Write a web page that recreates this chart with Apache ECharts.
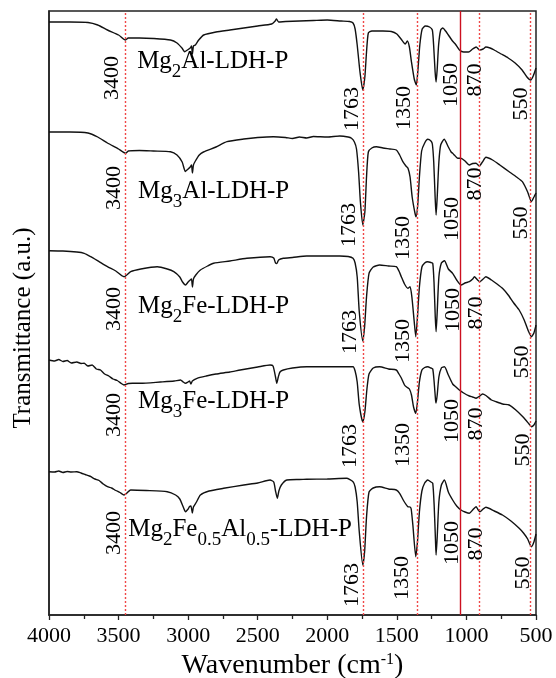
<!DOCTYPE html>
<html>
<head>
<meta charset="utf-8">
<script src="https://cdn.jsdelivr.net/npm/echarts@6/dist/echarts.min.js"></script>
<style>html,body{margin:0;padding:0;background:#fff}#c{width:556px;height:678px}</style>
</head>
<body>
<div id="c"></div>
<script>
// ---- data (wavenumber cm-1, transmittance a.u. with vertical offsets) ----
const xTicks = [4000, 3500, 3000, 2500, 2000, 1500, 1000, 500];
const refLines = [3450, 1742, 1355, 1046, 906, 538];
const peakLabels = ['3400', '1763', '1350', '1050', '870', '550'];
const sampleNames = [
  '{m|Mg}{s|2}{m|Al-LDH-P}',
  '{m|Mg}{s|3}{m|Al-LDH-P}',
  '{m|Mg}{s|2}{m|Fe-LDH-P}',
  '{m|Mg}{s|3}{m|Fe-LDH-P}',
  '{m|Mg}{s|2}{m|Fe}{s|0.5}{m|Al}{s|0.5}{m|-LDH-P}'
];

const mg2al = [[4000,595],[3850,595],[3720,594.5],[3650,592],[3580,587],[3500,582],[3450,577],[3430,579],[3350,579],[3250,578.5],[3127,577],[3080,574],[3043,568.7],[3026,565.3],[3005,567],[2985,569],[2976,571],[2969,563],[2962,571],[2948,572],[2924,577],[2888,582],[2800,585],[2700,587],[2600,589],[2500,591],[2400,593],[2375,596],[2365,598],[2350,595],[2300,595.5],[2200,596],[2100,596.5],[2000,597],[1900,596],[1840,595.5],[1815,594],[1800,588],[1785,572],[1765,545],[1745,527],[1730,540],[1718,565],[1705,584],[1680,586],[1600,586],[1540,585.5],[1500,583],[1470,578],[1440,573],[1425,576],[1410,570],[1395,555],[1375,538],[1360,532],[1348,548],[1335,572],[1318,588],[1295,591],[1265,590],[1245,587],[1235,570],[1225,545],[1218,535],[1210,548],[1200,572],[1185,587],[1170,589],[1150,586],[1120,580],[1100,576],[1080,573],[1050,567],[1020,565],[985,565],[955,568],[930,570],[905,567],[880,568],[860,570],[830,569],[800,567],[750,563],[700,559],[650,554],[600,547],[565,540],[538,537],[520,541],[500,549]];

const mg3al = [[4000,485],[3850,485],[3720,484],[3650,480],[3580,474],[3500,468],[3450,463.7],[3430,466],[3350,466.5],[3250,466],[3127,465.3],[3080,462],[3043,455],[3020,445.5],[3000,448],[2985,450],[2976,452],[2969,444],[2962,452],[2948,456],[2920,462],[2890,465],[2800,470],[2721,475.3],[2600,478],[2500,479.5],[2387,480.3],[2300,479.5],[2250,478.5],[2200,480],[2148,479],[2100,480.5],[2000,480],[1910,481],[1850,480],[1826,478.7],[1805,475],[1790,468],[1775,445],[1762,415],[1745,392],[1730,405],[1718,440],[1705,465],[1680,469],[1647,470.3],[1600,469],[1550,468],[1504,467],[1480,462],[1457,455.3],[1435,451],[1420,448.7],[1405,440],[1390,420],[1370,404],[1362,400.3],[1350,412],[1338,440],[1322,466],[1300,474],[1278,477.7],[1255,476],[1245,473],[1235,455],[1225,420],[1218,402],[1210,420],[1198,455],[1185,472],[1160,477.7],[1130,470],[1110,465],[1099,463.7],[1087,462],[1063,458.7],[1040,458.7],[1010,456],[979,452],[955,453.5],[931,453.7],[908,451],[885,455],[860,459.7],[812,457],[760,452],[693,445.3],[640,440],[598,435.3],[560,425],[533,415.3],[515,420],[500,424]];

const mg2fe = [[4000,366.3],[3900,366],[3800,365],[3747,363.7],[3700,360.3],[3640,355.3],[3580,350.3],[3520,346],[3461,340.3],[3413,345.3],[3340,348],[3222,350.3],[3150,348],[3103,345.3],[3060,340],[3040,335],[3019,332],[3000,335],[2985,337],[2976,338],[2969,330],[2962,338],[2945,342],[2912,347],[2860,351],[2817,353.7],[2700,356],[2578,358.7],[2411,360.3],[2385,359],[2372,354],[2362,353.5],[2350,357],[2316,358.7],[2250,359.5],[2148,361],[2000,361],[1910,361],[1850,360.5],[1815,358.7],[1800,354],[1785,340],[1770,305],[1745,276],[1732,290],[1718,320],[1700,343.7],[1670,350],[1624,352],[1560,351],[1504,350.3],[1485,346],[1468,340.3],[1445,333],[1421,328.7],[1405,330.3],[1392,320],[1375,295],[1364,280.3],[1352,300],[1338,330],[1320,350],[1300,354],[1278,355.3],[1255,354.5],[1242,353.7],[1233,335],[1224,300],[1218,285.3],[1210,305],[1198,340],[1180,354],[1158,356.3],[1130,348],[1099,343.7],[1070,337],[1039,332],[1010,334],[979,335.3],[955,338],[943,340.3],[920,337],[903,335.3],[880,338],[860,340.3],[820,337],[780,333],[741,328.7],[700,322],[660,314],[621,307],[585,297],[555,286],[533,280.3],[515,284],[500,292]];

const mg3fe = [[4000,257],[3960,256],[3930,257.5],[3900,255.5],[3870,256.5],[3840,254],[3800,255],[3770,253.5],[3747,253.7],[3720,251],[3690,252],[3660,248],[3630,247],[3600,243],[3570,241],[3540,238],[3510,236.5],[3480,233.5],[3461,232],[3430,233.5],[3400,233.7],[3341,233.7],[3200,235],[3100,236],[3055,237],[3035,235],[3019,233.7],[3000,235],[2990,236],[2980,233],[2970,236],[2936,238.7],[2870,241],[2800,243],[2700,245],[2626,247],[2500,250],[2411,252],[2390,251],[2372,240],[2363,233.7],[2352,240],[2340,245],[2316,247],[2250,249],[2148,250.3],[2000,250.3],[1900,250.3],[1815,250.3],[1800,246],[1785,235],[1770,212],[1745,195],[1730,205],[1715,228],[1700,243],[1670,249],[1624,250.3],[1560,248],[1504,247],[1485,243],[1468,239],[1445,232],[1430,230],[1410,228],[1395,222],[1380,210],[1364,203.7],[1352,215],[1338,235],[1320,247],[1300,249.5],[1278,250.3],[1255,249],[1242,248],[1232,235],[1222,217],[1218,214],[1210,222],[1198,240],[1180,249],[1158,250.3],[1130,242],[1099,233],[1075,230],[1051,227],[1020,224],[979,221],[955,220],[931,218.7],[915,220],[903,221],[885,223],[860,221.5],[820,217],[788,215.3],[740,213],[693,212],[645,207],[600,201],[574,197],[550,193],[533,190.3],[515,192],[500,196]];

const mg2feal = [[4000,145.3],[3960,145],[3930,146],[3900,144.5],[3870,145.5],[3840,145],[3800,145.3],[3770,144],[3740,142.5],[3710,141],[3699,140.3],[3670,138],[3640,136.5],[3610,133],[3580,130.3],[3550,129],[3520,126.5],[3490,124.5],[3461,122],[3440,124],[3413,127],[3300,126.5],[3150,125.3],[3090,122],[3060,118],[3035,110],[3019,105.3],[3000,108],[2991,110.3],[2980,111],[2970,104],[2962,110],[2940,115],[2912,122],[2850,126],[2745,128.7],[2600,132],[2500,134],[2411,137],[2385,135],[2372,126],[2359,118.7],[2348,126],[2330,132],[2291,137],[2200,137.5],[2148,137.7],[2000,138],[1862,138.7],[1815,135.3],[1800,130],[1785,115],[1770,85],[1745,52],[1732,65],[1718,100],[1700,125],[1670,129],[1624,130.3],[1560,128],[1504,127],[1480,123.7],[1450,116],[1421,110.3],[1405,110],[1397,108],[1385,92],[1364,60.3],[1352,75],[1338,105],[1320,126],[1300,134],[1278,137],[1255,135],[1242,133.7],[1232,112],[1222,75],[1218,62],[1210,80],[1198,115],[1180,132],[1158,137],[1130,125],[1099,117],[1070,111],[1039,107],[1010,105],[979,103.7],[955,107],[931,110.3],[915,107],[903,105.3],[880,108],[860,109.7],[800,106],[741,102],[680,96],[621,88.7],[590,84],[560,78],[533,70.3],[515,75],[500,83]];

const curves = [mg2al, mg3al, mg2fe, mg3fe, mg2feal];

// ---- annotation layout (in data units) ----
const peakLabelAnchors = [
  [[3545,539],[1824,508],[1445,509],[1108,532],[936,537],[607,513]],
  [[3528,429],[1845,392],[1452,379],[1101,398],[936,433],[607,394]],
  [[3528,308],[1838,285],[1452,276],[1094,307],[929,304],[600,255]],
  [[3528,202],[1838,171],[1452,172],[1101,196],[929,193],[593,167]],
  [[3528,84],[1824,32],[1459,39],[1101,74],[929,73],[593,44]]
];
const nameAnchors = [[3363,568],[3356,438],[3356,323],[3356,228],[3427,100]];

const FONT = "'Liberation Serif','Times New Roman',serif";
const chart = echarts.init(document.getElementById('c'), null, {renderer: 'canvas'});

const lineSeries = curves.map((d, i) => ({
  type: 'line', data: d, showSymbol: false, symbol: 'none', smooth: 0.2,
  lineStyle: {color: '#111', width: 1.4}, z: 3, silent: true
}));

lineSeries[0].markLine = {
  silent: true, symbol: ['none', 'none'], label: {show: false}, animation: false,
  data: refLines.map((v, i) => ({
    xAxis: v,
    lineStyle: {color: i === 3 ? '#cc1020' : '#f04848', type: i === 3 ? 'solid' : [2, 2], width: 1.4}
  }))
};

const peakData = [];
peakLabelAnchors.forEach(row => row.forEach((p, j) => peakData.push({value: p, name: peakLabels[j]})));

const annotSeries = {
  type: 'scatter', symbolSize: 1, itemStyle: {color: 'rgba(255,255,255,0)', opacity: 1}, z: 5, silent: true,
  data: peakData,
  label: {show: true, position: 'inside', rotate: 90, formatter: p => p.name, opacity: 1,
    textBorderWidth: 0, fontFamily: FONT, fontSize: 22, color: '#000', align: 'center', verticalAlign: 'middle'}
};

const nameSeries = {
  type: 'scatter', symbolSize: 1, itemStyle: {color: 'rgba(255,255,255,0)', opacity: 1}, z: 5, silent: true,
  data: nameAnchors.map((p, i) => ({value: p, name: sampleNames[i]})),
  label: {show: true, position: [0, 0], align: 'left', verticalAlign: 'top', formatter: p => p.name, opacity: 1,
    textBorderWidth: 0,
    rich: {
      m: {fontFamily: FONT, fontSize: 25, color: '#000', lineHeight: 26, verticalAlign: 'top'},
      s: {fontFamily: FONT, fontSize: 19, color: '#000', lineHeight: 20, verticalAlign: 'top', padding: [14, 0, 0, 0]}
    }}
};

chart.setOption({
  animation: false,
  backgroundColor: '#ffffff',
  grid: {left: 49, right: 20, top: 11, bottom: 63, show: true, borderColor: '#222', borderWidth: 1.5,
    containLabel: false, outerBoundsMode: 'none'},
  xAxis: {
    type: 'value', inverse: true, min: 500, max: 4000, interval: 500,
    axisLine: {show: true, lineStyle: {color: '#222', width: 1.5}},
    axisTick: {show: true, inside: false, length: 5, lineStyle: {color: '#222', width: 1.3}},
    minorTick: {show: true, splitNumber: 2, length: 4, lineStyle: {color: '#222', width: 1.3}},
    splitLine: {show: false}, minorSplitLine: {show: false},
    axisLabel: {fontFamily: FONT, fontSize: 22, color: '#000', margin: 10,
      formatter: v => xTicks.includes(v) ? String(v) : ''},
    name: '{a|Wavenumber (cm}{s|-1}{a|)}', nameLocation: 'middle', nameGap: 34,
    nameTextStyle: {rich: {
      a: {fontFamily: FONT, fontSize: 28, color: '#000', lineHeight: 30, verticalAlign: 'top'},
      s: {fontFamily: FONT, fontSize: 16, color: '#000', lineHeight: 16, verticalAlign: 'top'}
    }}
  },
  yAxis: {
    type: 'value', min: 2, max: 606,
    axisLine: {show: true, lineStyle: {color: '#222', width: 1.5}},
    axisTick: {show: false}, axisLabel: {show: false}, splitLine: {show: false}
  },
  graphic: [{
    type: 'text', x: 23, y: 328, rotation: Math.PI / 2,
    style: {text: 'Transmittance (a.u.)', fontFamily: FONT, fontSize: 25, fill: '#000', align: 'center', verticalAlign: 'middle'}
  }],
  series: [...lineSeries, annotSeries, nameSeries]
});
</script>
</body>
</html>
